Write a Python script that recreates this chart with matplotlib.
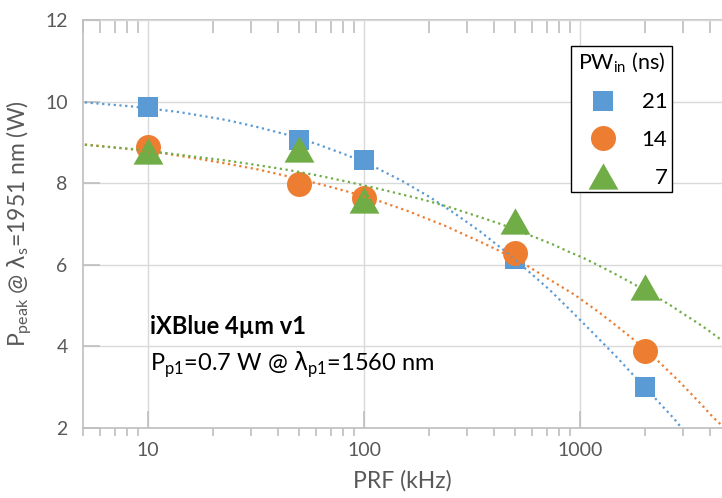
import matplotlib
matplotlib.use('Agg')
import matplotlib.pyplot as plt
from matplotlib.ticker import MultipleLocator, FuncFormatter, NullFormatter

plt.rcParams['font.family'] = ['Lato', 'DejaVu Sans']
plt.rcParams['mathtext.fontset'] = 'dejavusans'

# measured points
prf = [10, 50, 100, 500, 2000]
pw_labels = ['21', '14', '\u20077']
p_21 = [9.86, 9.06, 8.56, 6.14, 3.0]
p_14 = [8.89, 7.98, 7.63, 6.30, 3.89]
p_7 = [8.80, 8.85, 7.60, 7.08, 5.45]

# dotted trend curves
fit21_x = [5.1, 8.5, 14.1, 23, 31.9, 43.9, 60.4, 83.2, 114.5, 152, 200, 261, 342, 441,
           566, 718, 921, 1173, 1495, 1692, 2030, 2440, 2743, 2950]
fit21_y = [9.98, 9.88, 9.74, 9.55, 9.38, 9.19, 8.96, 8.69, 8.37, 8.04, 7.67, 7.27, 6.83, 6.37,
           5.88, 5.40, 4.84, 4.28, 3.71, 3.40, 2.96, 2.50, 2.21, 2.0]
fit14_x = [5.1, 8.4, 11.9, 16.6, 23.1, 32.1, 44.3, 61.2, 84.6, 116.5, 159, 236, 353, 416,
           556, 721, 941, 1221, 1570, 1778, 2279, 2904, 3700, 4113, 4540]
fit14_y = [8.95, 8.83, 8.73, 8.61, 8.48, 8.34, 8.17, 7.99, 7.79, 7.57, 7.32, 6.96, 6.54, 6.36,
           6.01, 5.64, 5.27, 4.84, 4.39, 4.16, 3.66, 3.12, 2.54, 2.27, 2.06]
fit7_x = [5.1, 8.4, 11.6, 16.4, 22.7, 31.5, 43.9, 61.0, 84.9, 117.6, 162, 190, 243, 313, 367,
          434, 608, 748, 877, 1025, 1202, 1412, 1634, 2040, 2582, 2904, 3373, 3863, 4397, 4540]
fit7_y = [8.94, 8.84, 8.75, 8.65, 8.56, 8.45, 8.33, 8.19, 8.03, 7.86, 7.68, 7.59, 7.43, 7.24, 7.12,
          6.99, 6.69, 6.50, 6.33, 6.18, 6.00, 5.81, 5.63, 5.35, 5.03, 4.85, 4.63, 4.42, 4.20, 4.17]

colors = ['#5B9BD5', '#ED7D31', '#70AD47']
gray = '#BFBFBF'
txt_gray = '#595959'
tri = [(-1, -0.88), (1, -0.88), (0, 0.88)]

fig = plt.figure(figsize=(7.22, 4.98), dpi=100)
ax = fig.add_axes([83 / 722, 70 / 498, 639 / 722, 408 / 498])
ax.set_xscale('log')
ax.set_xlim(5, 4540)
ax.set_ylim(2, 12)

handles = []
for y, fx, fy, c, m, ms in zip([p_21, p_14, p_7], [fit21_x, fit14_x, fit7_x],
                               [fit21_y, fit14_y, fit7_y], colors, ['s', 'o', tri],
                               [15.1, 18, 21.5]):
    h, = ax.plot(prf, y, ls='none', marker=m, ms=ms, color=c, mew=0, zorder=3)
    handles.append(h)
    ax.plot(fx, fy, ls=(0, (1, 1.6)), lw=1.6, color=c, zorder=4)

ax.grid(which='major', color='#D9D9D9', lw=1)
ax.set_axisbelow(True)
for s in ['left', 'bottom']:
    ax.spines[s].set_color(gray)
    ax.spines[s].set_linewidth(1.2)
ax.spines['right'].set_visible(False)
ax.spines['top'].set_visible(False)

ax.xaxis.set_major_formatter(FuncFormatter(lambda v, p: f'{v:g}'))
ax.xaxis.set_minor_formatter(NullFormatter())
ax.tick_params(axis='x', which='major', direction='in', length=12, width=1.2, color=gray,
               labelsize=14, labelcolor=txt_gray, pad=10, top=False)
ax.tick_params(axis='x', which='minor', direction='out', length=6, width=1.2, color=gray, top=False)
ax.yaxis.set_major_locator(MultipleLocator(2))
ax.tick_params(axis='y', direction='in', length=12, width=1.2, color=gray,
               labelsize=14, labelcolor=txt_gray, pad=11, right=False)

sec = ax.secondary_xaxis('top')
sec.spines['top'].set_color(gray)
sec.spines['top'].set_linewidth(1.2)
sec.xaxis.set_major_formatter(NullFormatter())
sec.xaxis.set_minor_formatter(NullFormatter())
sec.tick_params(which='major', length=0)
sec.tick_params(which='minor', direction='in', length=9, width=1.2, color=gray)

ax.set_xlabel('PRF (kHz)', fontsize=16.5, color=txt_gray, labelpad=8)
ax.set_ylabel(r'P$_{\mathregular{peak}}$ @ $\mathrm{\lambda}_{\mathregular{s}}$=1951 nm (W)',
              fontsize=16.5, color=txt_gray, labelpad=7)

ax.text(0.105, 0.25, 'iXBlue 4µm v1', transform=ax.transAxes, fontsize=17,
        fontweight='bold', va='center', ha='left')
ax.text(0.105, 0.155, r'P$_{\mathregular{p1}}$=0.7 W @ $\mathrm{\lambda}_{\mathregular{p1}}$=1560 nm',
        transform=ax.transAxes, fontsize=17, va='center', ha='left')

leg = ax.legend(handles, pw_labels, title=r'PW$_{\mathregular{in}}$ (ns)',
                loc='upper right', bbox_to_anchor=(672 / 722, 1 - 46 / 498),
                bbox_transform=fig.transFigure, borderaxespad=0, fontsize=16,
                title_fontsize=15.5, frameon=True, fancybox=False, framealpha=1,
                edgecolor='black', handlelength=2.5, handletextpad=0.5,
                labelspacing=0.8, borderpad=0.2, markerfirst=True)
leg.get_frame().set_linewidth(1.0)
leg.set_zorder(10)

fig.savefig('out.png', dpi=100)
